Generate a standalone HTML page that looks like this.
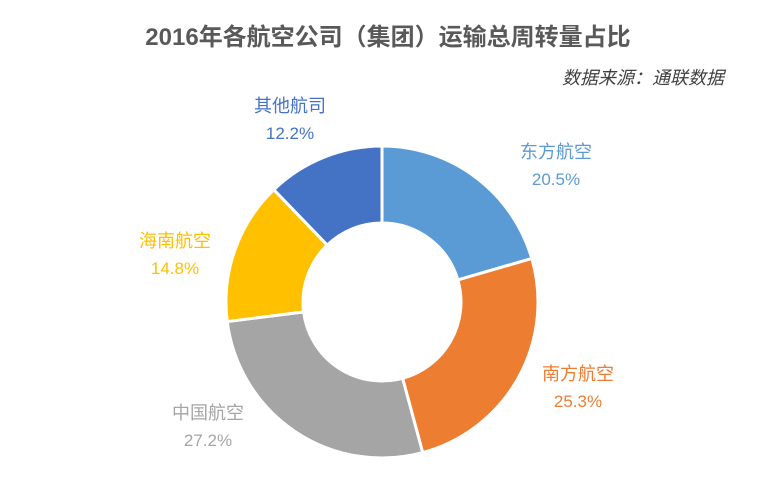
<!DOCTYPE html>
<html><head><meta charset="utf-8"><style>
body{margin:0;background:#fff;width:776px;height:481px;overflow:hidden;font-family:"Liberation Sans","Noto Sans CJK SC",sans-serif;}
</style></head><body>
<svg id="chart" width="776" height="481">
<text x="388" y="45" text-anchor="middle" font-size="24" font-weight="bold" fill="#595959" font-family="Liberation Sans, Noto Sans CJK SC, sans-serif">2016年各航空公司（集团）运输总周转量占比</text>
<text x="724" y="84" text-anchor="end" font-size="18" font-style="italic" fill="#404040" font-family="Liberation Sans, Noto Sans CJK SC, sans-serif">数据来源：通联数据</text>
<g id="slices"></g><g id="labels"></g>
</svg>
<script>
const categories=["东方航空","南方航空","中国航空","海南航空","其他航司"];
const values=[20.5,25.3,27.2,14.8,12.2];
const colors=["#5B9BD5","#ED7D31","#A5A5A5","#FFC000","#4472C4"];
const labelPos=[[556,152],[578,374],[208,413],[175,241],[290,106]];
const cx=382,cy=302,R=156,r=79;
const total=values.reduce((a,b)=>a+b,0);
const ns="http://www.w3.org/2000/svg";
const sg=document.getElementById('slices'),lg=document.getElementById('labels');
function pt(a,rad){return [cx+rad*Math.sin(a),cy-rad*Math.cos(a)];}
let acc=0;
values.forEach((v,i)=>{
 const a0=acc/total*2*Math.PI;acc+=v;const a1=acc/total*2*Math.PI;
 const large=(a1-a0)>Math.PI?1:0;
 const p0=pt(a0,R),p1=pt(a1,R),q1=pt(a1,r),q0=pt(a0,r);
 const p=document.createElementNS(ns,'path');
 p.setAttribute('d',`M${p0} A${R},${R} 0 ${large} 1 ${p1} L${q1} A${r},${r} 0 ${large} 0 ${q0}Z`);
 p.setAttribute('fill',colors[i]);p.setAttribute('stroke','#fff');p.setAttribute('stroke-width','3');
 
 
 sg.appendChild(p);
 const [lx,ly]=labelPos[i];
 const t=document.createElementNS(ns,'text');
 t.setAttribute('x',lx);t.setAttribute('y',ly+6);t.setAttribute('text-anchor','middle');
 t.setAttribute('font-size','18');t.setAttribute('fill',colors[i]);t.textContent=categories[i];
 
 
 lg.appendChild(t);
 const t2=document.createElementNS(ns,'text');
 t2.setAttribute('x',lx);t2.setAttribute('y',ly+33);t2.setAttribute('text-anchor','middle');
 t2.setAttribute('font-size','17');t2.setAttribute('fill',colors[i]);t2.textContent=v.toFixed(1)+'%';
 
 
 lg.appendChild(t2);
});
</script>
</body></html>
